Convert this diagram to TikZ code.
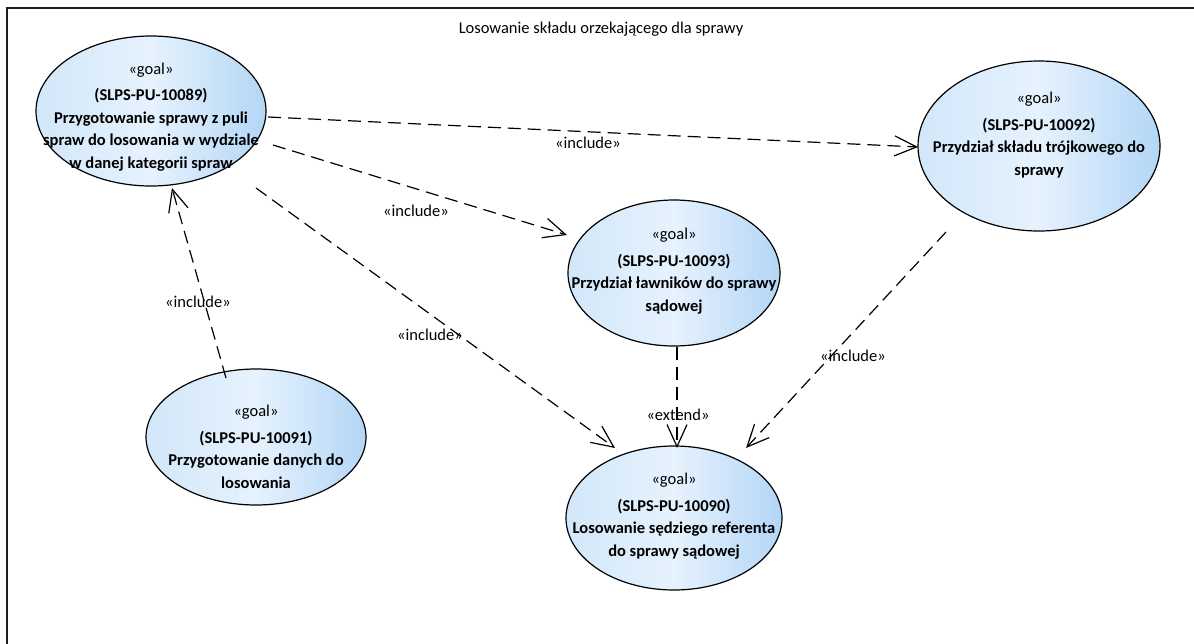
\documentclass[tikz,border=0pt]{standalone}
\usepackage{fontspec}
\setmainfont{Carlito}
\usetikzlibrary{shapes.geometric,arrows.meta,calc}
\definecolor{cLeft}{HTML}{D2E7FA}
\definecolor{cMid}{HTML}{E6F2FD}
\definecolor{cRight}{HTML}{B3D6F6}
\definecolor{frameC}{HTML}{1E1E1E}
\begin{document}
\begin{tikzpicture}[x=1pt,y=-1pt,
  goalell/.style={ellipse,draw=black,line width=1.2pt,inner sep=0pt,
    left color=cLeft,right color=cRight,middle color=cMid},
  goaltxt/.style={align=center,font=\fontsize{16.5}{22.5}\selectfont,inner sep=0pt},
  lbl/.style={font=\fontsize{16.5}{20}\selectfont,inner sep=0pt},
  dep/.style={line width=1.2pt,dash pattern=on 13pt off 7pt,
    -{Straight Barb[length=22pt,width=20pt,line width=1.2pt]}}
]
\useasboundingbox (0,0) rectangle (1194,643);
\fill[white] (0,0) rectangle (1194,643);
% frame
\draw[frameC,line width=2pt] (1200,8) -- (7,8) -- (7,650);
\node[lbl] (title) at (601,29) {Losowanie składu orzekającego dla sprawy};

% ellipses
\node[goalell,minimum width=230pt,minimum height=150pt] (e89) at (151,111) {};
\node[goalell,minimum width=242pt,minimum height=170pt] (e92) at (1039,146) {};
\node[goalell,minimum width=212pt,minimum height=146pt] (e93) at (674,273) {};
\node[goalell,minimum width=220pt,minimum height=136pt] (e91) at (256,437) {};
\node[goalell,minimum width=216pt,minimum height=144pt] (e90) at (674,518) {};

% texts
\node[goaltxt] (t89) at (151,117) {«goal»\\[4pt]\textbf{(SLPS-PU-10089)}\\\textbf{Przygotowanie sprawy z puli}\\\textbf{spraw do losowania w wydziale}\\\textbf{w danej kategorii spraw}};
\node[goaltxt] (t92) at (1039,135) {«goal»\\[4pt]\textbf{(SLPS-PU-10092)}\\\textbf{Przydział składu trójkowego do}\\\textbf{sprawy}};
\node[goaltxt] (t93) at (674,271) {«goal»\\[4pt]\textbf{(SLPS-PU-10093)}\\\textbf{Przydział ławników do sprawy}\\\textbf{sądowej}};
\node[goaltxt] (t91) at (256,447) {«goal»\\[4pt]\textbf{(SLPS-PU-10091)}\\\textbf{Przygotowanie danych do}\\\textbf{losowania}};
\node[goaltxt] (t90) at (674,516) {«goal»\\[4pt]\textbf{(SLPS-PU-10090)}\\\textbf{Losowanie sędziego referenta}\\\textbf{do sprawy sądowej}};

% connectors
\draw[dep] ($(e89)+(117,6)$) -- ($(e92)+(-121,1)$);
\draw[dep] ($(e89)+(122,34)$) -- ($(e93)+(-107,-38)$);
\draw[dep] ($(e89)+(105,77)$) -- ($(e90)+(-59,-70)$);
\draw[dep] ($(e91)+(-30,-59)$) -- ($(e89)+(21,77)$);
\draw[dep] ($(e93)+(3,74)$) -- ($(e90)+(3,-70)$);
\draw[dep] ($(e92)+(-93,86)$) -- ($(e90)+(72,-70)$);

% labels
\node[lbl] (l1) at (588,143) {«include»};
\node[lbl] (l2) at (416,211) {«include»};
\node[lbl] (l3) at (430,335) {«include»};
\node[lbl] (l4) at (198,302) {«include»};
\node[lbl] (l5) at (678,415) {«extend»};
\node[lbl] (l6) at (853,356) {«include»};
\end{tikzpicture}
\end{document}
